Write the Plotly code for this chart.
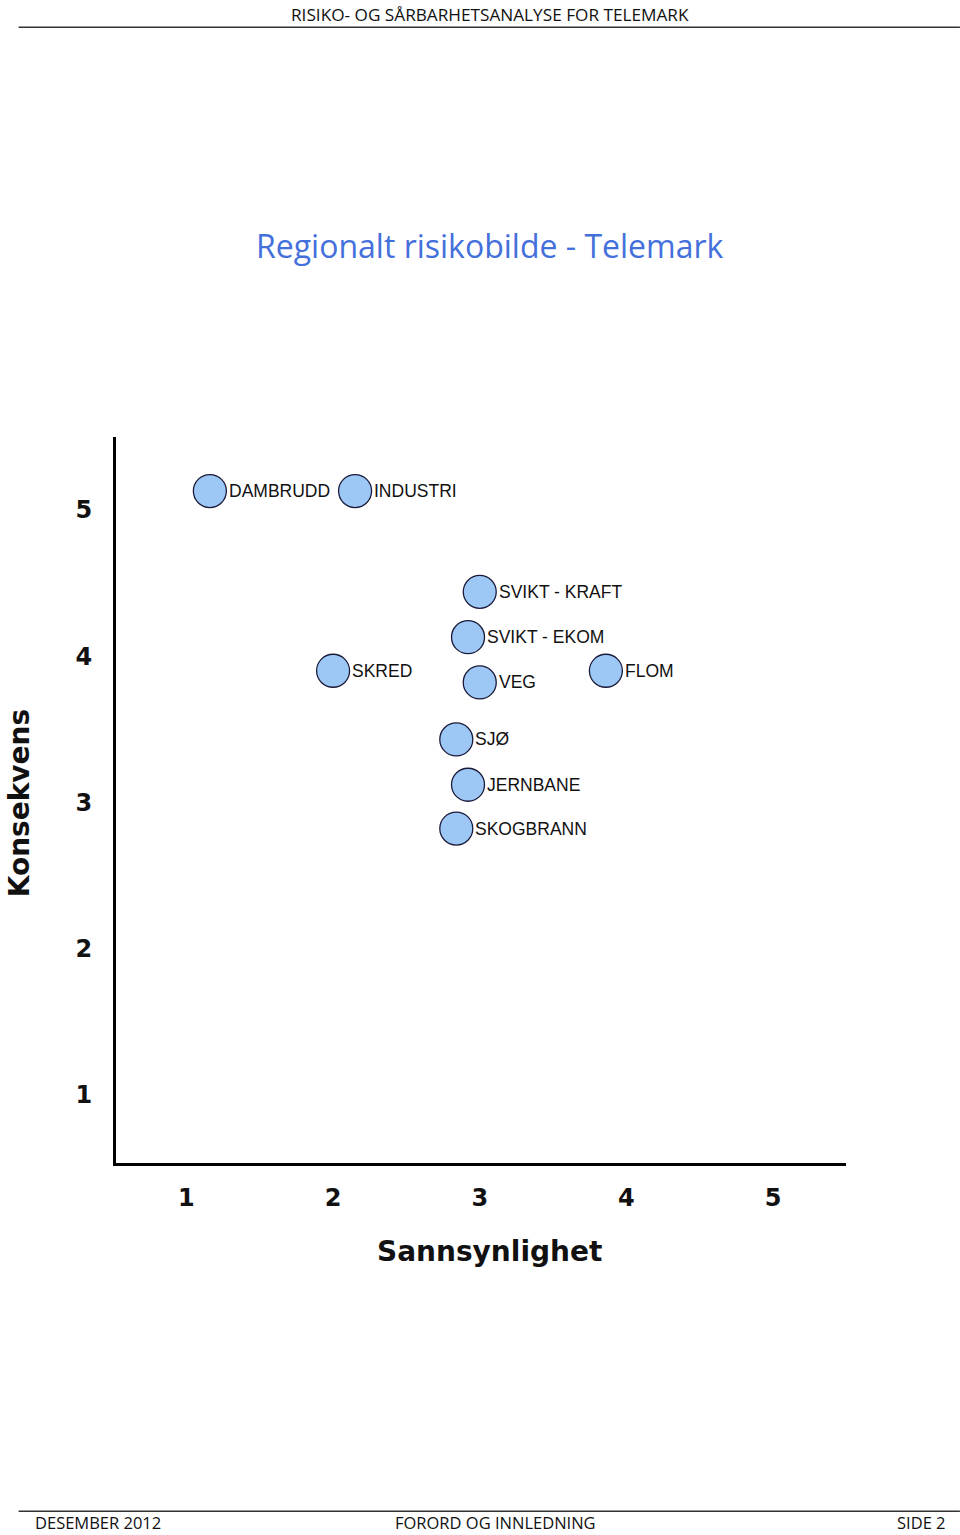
import plotly.graph_objects as go

# ---- data ----
labels = ["DAMBRUDD", "INDUSTRI", "SVIKT - KRAFT", "SVIKT - EKOM", "SKRED",
          "VEG", "FLOM", "SJØ", "JERNBANE", "SKOGBRANN"]
sannsynlighet = [1.16, 2.15, 3.00, 2.92, 2.00, 3.00, 3.86, 2.84, 2.92, 2.84]
konsekvens = [5.13, 5.13, 4.44, 4.13, 3.90, 3.82, 3.90, 3.43, 3.12, 2.82]
tick_vals = [1, 2, 3, 4, 5]
tick_text = ["1", "2", "3", "4", "5"]
x_range = [0.52, 5.497]
y_range = [0.531, 5.5]

W, H = 960, 1535
L, R, T, B = 115.5, 846, 437, 1163.5


def px(x):
    return (x - L) / (R - L)


def py(y):
    return (B - y) / (B - T)


fig = go.Figure()
fig.add_trace(go.Scatter(
    x=sannsynlighet, y=konsekvens, mode="markers",
    marker=dict(size=33, color="#9dc8f5", line=dict(color="#1a1a3a", width=1.3)),
    hoverinfo="skip", cliponaxis=False,
))

ann = []
for xv, yv, lab in zip(sannsynlighet, konsekvens, labels):
    ann.append(dict(x=xv, y=yv, xref="x", yref="y", text=lab, showarrow=False,
                    xanchor="left", yanchor="middle", xshift=17,
                    font=dict(family="Liberation Sans", size=17.5, color="#111111")))

axis_common = dict(
    tickvals=tick_vals, ticktext=tick_text,
    showgrid=False, zeroline=False, showline=True, linecolor="black",
    linewidth=3,
    tickfont=dict(family="DejaVu Sans", size=24, color="#111111", weight="bold"),
)
fig.update_xaxes(**axis_common, range=x_range, ticks="outside", ticklen=11,
                 tickcolor="white")
fig.update_yaxes(**axis_common, range=y_range, ticks="outside", ticklen=16,
                 tickcolor="white")


def page_text(x, y, text, size, family="Open Sans", color="#111111",
              xanchor="center", angle=0):
    return dict(x=px(x), y=py(y), xref="paper", yref="paper", text=text,
                showarrow=False, xanchor=xanchor, yanchor="middle",
                textangle=angle, font=dict(family=family, size=size, color=color))


ann.append(page_text(489, 1252, "<b>Sannsynlighet</b>", 28, family="DejaVu Sans"))
ann.append(page_text(19, 803, "<b>Konsekvens</b>", 28, family="DejaVu Sans", angle=-90))
ann.append(page_text(490, 245, "Regionalt risikobilde - Telemark", 32, color="#4470dc"))
ann.append(page_text(490, 14, "RISIKO- OG SÅRBARHETSANALYSE FOR TELEMARK", 17.2))
ann.append(page_text(32, 1523, "DESEMBER 2012", 16.5, xanchor="left"))
ann.append(page_text(495, 1523, "FORORD OG INNLEDNING", 16.5))
ann.append(page_text(948, 1523, "SIDE 2", 16.5, xanchor="right"))

shapes = [
    dict(type="line", xref="paper", yref="paper", x0=px(18), x1=px(960),
         y0=py(27), y1=py(27), line=dict(color="#333333", width=1.5)),
    dict(type="line", xref="paper", yref="paper", x0=px(18), x1=px(960),
         y0=py(1512), y1=py(1512), line=dict(color="#333333", width=1.5)),
]

fig.update_layout(
    width=W, height=H, margin=dict(l=L, r=W - R, t=T, b=H - B),
    paper_bgcolor="white", plot_bgcolor="white", showlegend=False,
    annotations=ann, shapes=shapes,
)
fig.write_html("out.html", config={"displayModeBar": False},
               post_script="document.body.style.margin='0px';"
                           "document.body.style.overflow='hidden';")
